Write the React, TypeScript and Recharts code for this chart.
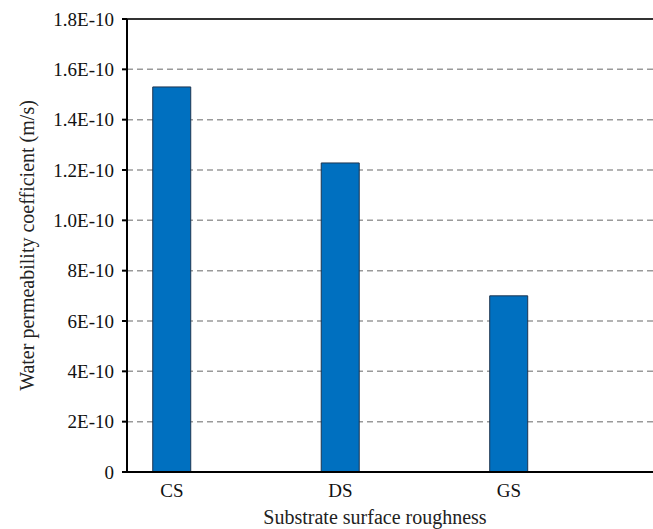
import React from "react";
import {
  BarChart,
  Bar,
  XAxis,
  YAxis,
  CartesianGrid,
  ReferenceLine
} from "recharts";

const categories = ["CS", "DS", "GS"];
const permeability = [1.53e-10, 1.228e-10, 0.7e-10];
const yTicks = [0, 2e-11, 4e-11, 6e-11, 8e-11, 1e-10, 1.2e-10, 1.4e-10, 1.6e-10, 1.8e-10];
const yTickLabels = ["0", "2E-10", "4E-10", "6E-10", "8E-10", "1.0E-10", "1.2E-10", "1.4E-10", "1.6E-10", "1.8E-10"];

const data = categories.map((name, i) => ({ pos: i, name, value: permeability[i] }));

const font = "Liberation Serif, Times New Roman, serif";

const yLabel = (v: number) => {
  let best = 0;
  yTicks.forEach((t, i) => {
    if (Math.abs(t - v) < Math.abs(yTicks[best] - v)) best = i;
  });
  return yTickLabels[best];
};

export default function App() {
  return (
    <div style={{ position: "absolute", left: 0, top: 0, width: 653, height: 529, background: "#fff", fontFamily: font }}>
      <BarChart width={653} height={529} data={data} margin={{ top: 19, right: 0, left: 0, bottom: 0 }}>
        <CartesianGrid horizontal vertical={false} stroke="#9a9a9a" strokeWidth={1.5} strokeDasharray="6 4" />
        <XAxis
          type="number"
          dataKey="pos"
          domain={[-0.267, 2.855]}
          ticks={[0, 1, 2]}
          allowDataOverflow
          tickFormatter={(v: number) => categories[Math.round(v)]}
          height={57}
          tickSize={0}
          tickMargin={12}
          stroke="#000"
          strokeWidth={2}
          tick={{ fill: "#111", fontSize: 19, fontFamily: font }}
          label={{
            value: "Substrate surface roughness",
            position: "insideBottom",
            offset: 5,
            dx: -15,
            style: { fill: "#222", fontSize: 20, fontFamily: font }
          }}
        />
        <YAxis
          type="number"
          domain={[0, 1.8e-10]}
          ticks={yTicks}
          tickFormatter={yLabel}
          width={127}
          tickSize={5}
          tickMargin={8}
          stroke="#000"
          strokeWidth={2}
          tick={{ fill: "#111", fontSize: 19, fontFamily: font }}
          label={{
            value: "Water permeability coefficient (m/s)",
            angle: -90,
            position: "insideLeft",
            offset: 27,
            style: { textAnchor: "middle", fill: "#222", fontSize: 20, fontFamily: font }
          }}
        />
        <ReferenceLine y={1.8e-10} stroke="#333" strokeWidth={2} />
        <Bar
          dataKey="value"
          fill="#0070C0"
          stroke="#1d3550"
          strokeWidth={1}
          barSize={38}
          isAnimationActive={false}
        />
      </BarChart>
    </div>
  );
}
